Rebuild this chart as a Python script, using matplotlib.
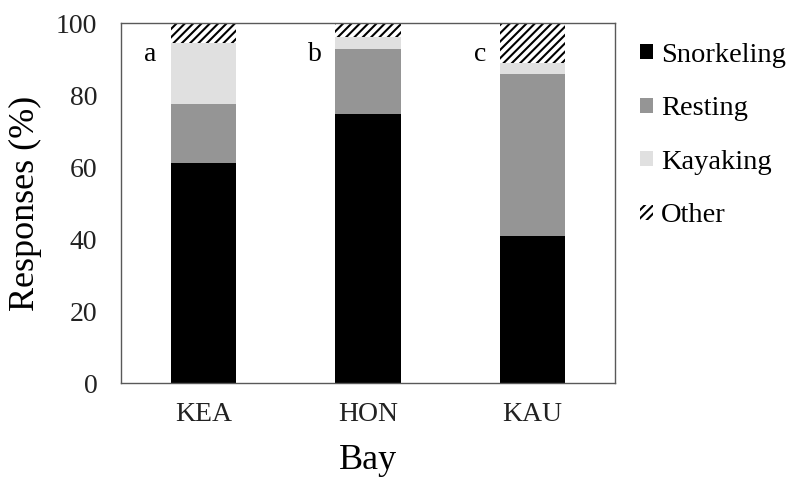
import matplotlib
matplotlib.use("Agg")
import matplotlib.pyplot as plt
import numpy as np

bays = ["KEA", "HON", "KAU"]
snorkeling = [61.1, 74.8, 40.7]
resting = [16.4, 18.1, 45.1]
kayaking = [16.9, 3.2, 3.1]
other = [5.6, 3.9, 11.1]
letters = ["a", "b", "c"]

plt.rcParams['font.family'] = ['Liberation Serif', 'DejaVu Serif']
plt.rcParams['hatch.linewidth'] = 1.5

fig = plt.figure(figsize=(7.86, 4.86), dpi=100)
ax = fig.add_axes([121/786, 1-383/486, 494/786, 360/486])

x = np.arange(len(bays))
w = 0.395
b1 = np.array(snorkeling)
b2 = b1 + np.array(resting)
b3 = b2 + np.array(kayaking)
ax.bar(x, snorkeling, w, color="black", linewidth=0, label="Snorkeling")
ax.bar(x, resting, w, bottom=b1, color="#959595", linewidth=0, label="Resting")
ax.bar(x, kayaking, w, bottom=b2, color="#e0e0e0", linewidth=0, label="Kayaking")
ax.bar(x, other, w, bottom=b3, color="white", edgecolor="black", linewidth=0,
       hatch="////", label="Other")

for xi, lt in zip(x, letters):
    ax.text(xi - 0.32, 91.2, lt, ha="center", va="center", fontsize=20)

ax.set_xlim(-0.5, 2.5)
ax.set_ylim(0, 100)
ax.set_yticks([0, 20, 40, 60, 80, 100])
ax.set_xticks(x)
ax.set_xticklabels(bays)
ax.tick_params(axis="y", length=0, pad=17, labelsize=20, colors="#222222")
ax.tick_params(axis="x", length=0, pad=14, labelsize=20, colors="#222222")
for s in ax.spines.values():
    s.set_color("#595959")
    s.set_linewidth(1.0)

ax.set_ylabel("Responses (%)", fontsize=26, labelpad=10)
ax.set_xlabel("Bay", fontsize=26, labelpad=12)

ax.legend(loc="upper left", bbox_to_anchor=(1.01, 1.0), frameon=False,
          fontsize=20.5, handlelength=0.45, handleheight=0.45, handletextpad=0.3,
          labelspacing=1.0, borderpad=0.2)

fig.savefig("out.png", dpi=100)
